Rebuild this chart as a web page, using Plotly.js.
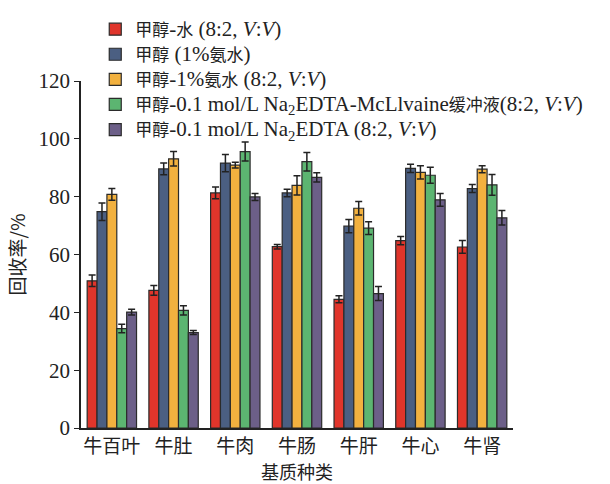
<!DOCTYPE html>
<html><head><meta charset="utf-8">
<script src="https://cdn.plot.ly/plotly-3.0.1.min.js"></script>
<style>body{margin:0;background:#fff}#chart{width:610px;height:484px}</style>
</head><body><div id="chart"></div>
<script>
const categories = ["牛百叶","牛肚","牛肉","牛肠","牛肝","牛心","牛肾"];
const seriesNames = [
  "甲醇-水 (8:2, <i>V</i>:<i>V</i>)",
  "甲醇 (1%氨水)",
  "甲醇-1%氨水 (8:2, <i>V</i>:<i>V</i>)",
  "甲醇-0.1 mol/L Na<sub>2</sub>EDTA-McLlvaine缓冲液(8:2, <i>V</i>:<i>V</i>)",
  "甲醇-0.1 mol/L Na<sub>2</sub>EDTA (8:2, <i>V</i>:<i>V</i>)"
];
const waterMeOH   = [50.9, 47.6, 81.3, 62.7, 44.5, 64.8, 62.6];
const meOHAmmonia = [74.8, 89.6, 91.6, 81.3, 69.8, 89.8, 82.8];
const meOHAmmMix  = [80.8, 93.1, 90.9, 83.9, 76.0, 88.4, 89.5];
const meOHBuffer  = [34.4, 40.7, 95.6, 92.1, 69.1, 87.4, 84.1];
const meOHEDTA    = [40.1, 33.0, 79.9, 86.7, 46.5, 78.9, 72.7];
const errWater    = [2.0, 1.7, 2.0, 0.8, 1.2, 1.4, 2.2];
const errAmmonia  = [3.0, 2.0, 3.0, 1.3, 2.3, 1.4, 1.4];
const errAmmMix   = [2.0, 2.5, 1.0, 3.3, 2.3, 2.3, 1.2];
const errBuffer   = [1.5, 1.6, 3.3, 3.2, 2.2, 2.8, 3.6];
const errEDTA     = [1.0, 0.7, 1.2, 1.6, 2.4, 2.2, 2.5];
const colors = ["#e0352b","#4b5f82","#f2b13f","#5cb571","#6c5f88"];

// enlarge the Latin runs of a legend label (serif Latin is wider than the CJK in the original)
function styleLabel(s) {
  return s.split(/([\u3400-\u9fff\uff00-\uffef]+)/).map(part => {
    if (!part) return '';
    if (/[\u3400-\u9fff\uff00-\uffef]/.test(part)) return part;
    return '<span style="font-size:21px">' + part + '</span>';
  }).join('');
}

const values = [waterMeOH, meOHAmmonia, meOHAmmMix, meOHBuffer, meOHEDTA];
const errs = [errWater, errAmmonia, errAmmMix, errBuffer, errEDTA];
const traces = values.map((v,i)=>({
  type:'bar', name:styleLabel(seriesNames[i]), x:categories, y:v,
  marker:{color:colors[i], line:{color:'#2b2b2b', width:1.2}},
  error_y:{type:'data', array:errs[i], visible:true, color:'#222', thickness:1.5, width:3.5}
}));
const fontFam = '"Liberation Serif", "Noto Sans CJK SC", serif';
const layout = {
  width:610, height:484,
  margin:{l:81, r:97, t:77, b:56},
  paper_bgcolor:'#fff', plot_bgcolor:'#fff',
  barmode:'group', bargap:0.2, bargroupgap:0,
  font:{family:fontFam, color:'#222', size:18},
  showlegend:true,
  legend:{x:0.033, y:1.2, xanchor:'left', yanchor:'top', bgcolor:'rgba(0,0,0,0)',
          font:{family:fontFam, size:17, color:'#222'}, tracegroupgap:0, itemwidth:30},
  xaxis:{showline:true, linecolor:'#222', linewidth:1.5, ticks:'', showgrid:false,
         tickfont:{family:'"Noto Sans CJK SC", sans-serif', size:19, color:'#222'},
         title:{text:'基质种类', font:{family:'"Noto Sans CJK SC", sans-serif', size:18}, standoff:6}},
  yaxis:{range:[0,120], dtick:20, showline:true, linecolor:'#222', linewidth:1.5,
         ticks:'outside', ticklen:5, tickcolor:'#222', showgrid:false, zeroline:false,
         tickfont:{family:'"Liberation Serif", serif', size:21, color:'#222'},
         title:{text:'回收率/%', font:{family:'"Noto Sans CJK SC", sans-serif', size:19}, standoff:8}}
};
Plotly.newPlot('chart', traces, layout, {displayModeBar:false});
</script></body></html>
